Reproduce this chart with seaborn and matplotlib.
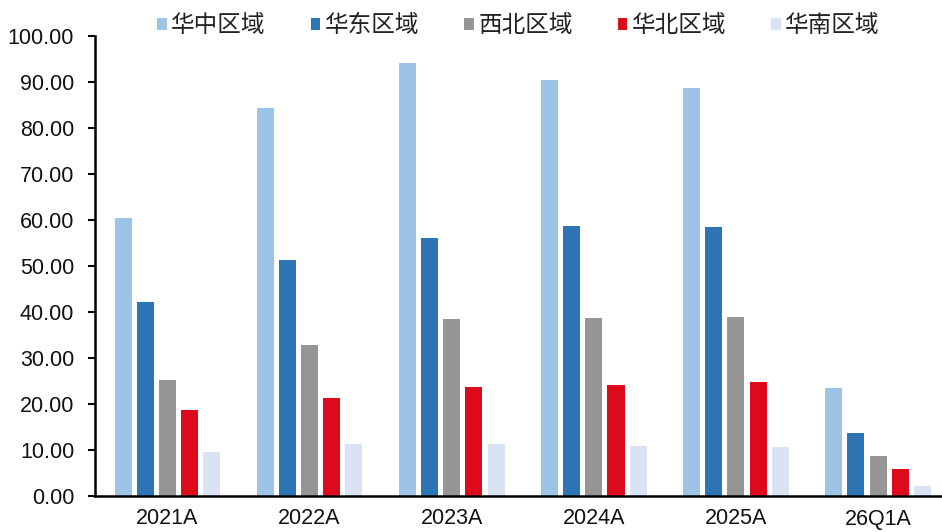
import matplotlib
matplotlib.use("Agg")
import matplotlib.pyplot as plt
import seaborn as sns
import pandas as pd

categories = ["2021A", "2022A", "2023A", "2024A", "2025A", "26Q1A"]
regions = ["华中区域", "华东区域", "西北区域", "华北区域", "华南区域"]
huazhong = [60.4, 84.3, 94.2, 90.4, 88.8, 23.4]
huadong = [42.2, 51.2, 56.0, 58.7, 58.4, 13.8]
xibei = [25.2, 32.9, 38.5, 38.8, 39.0, 8.6]
huabei = [18.6, 21.2, 23.6, 24.2, 24.7, 5.9]
huanan = [9.6, 11.3, 11.2, 10.9, 10.7, 2.2]
yticks = [0, 10, 20, 30, 40, 50, 60, 70, 80, 90, 100]
colors = ["#9DC3E6", "#2E75B6", "#969696", "#DC0A1B", "#DAE3F3"]

series = [huazhong, huadong, xibei, huabei, huanan]
rows = []
for r, vals in zip(regions, series):
    for c, v in zip(categories, vals):
        rows.append({"cat": c, "region": r, "value": v})
df = pd.DataFrame(rows)

sns.set_style("white")
plt.rcParams["font.family"] = ["Liberation Sans", "Noto Sans CJK SC", "DejaVu Sans"]

fig = plt.figure(figsize=(9.42, 5.32), dpi=100)
ax = fig.add_axes([95/942, 1 - 496/532, 1 - 95/942, (496 - 36)/532])
sns.barplot(data=df, x="cat", y="value", hue="region", order=categories,
            hue_order=regions, palette=colors, width=0.78, gap=0.23,
            saturation=1, linewidth=0, ax=ax, legend=True)

ax.set_ylim(0, 100)
ax.set_xlim(-0.51, 5.45)
ax.set_yticks(yticks)
ax.set_yticklabels([f"{t:.2f}" for t in yticks], fontsize=15.5, color="#111111")
ax.tick_params(axis="y", which="both", direction="out", length=5, width=1.5,
               left=True, pad=10, colors="black", labelcolor="#111111")
ax.tick_params(axis="x", length=0, labelsize=15.5, pad=9, labelcolor="#111111")
ax.set_xlabel("")
ax.set_ylabel("")
for s in ["top", "right"]:
    ax.spines[s].set_visible(False)
for s in ["left", "bottom"]:
    ax.spines[s].set_color("black")
    ax.spines[s].set_linewidth(1.8)

handles, labels = ax.get_legend_handles_labels()
leg = ax.legend(handles, labels, loc="upper center", bbox_to_anchor=(0.5, 1.092),
          ncol=5, frameon=False, fontsize=17, handlelength=0.4,
          handleheight=0.4, handletextpad=0.2, columnspacing=1.9)
for t in leg.get_texts():
    t.set_color("#222222")

fig.savefig("out.png", dpi=100)
